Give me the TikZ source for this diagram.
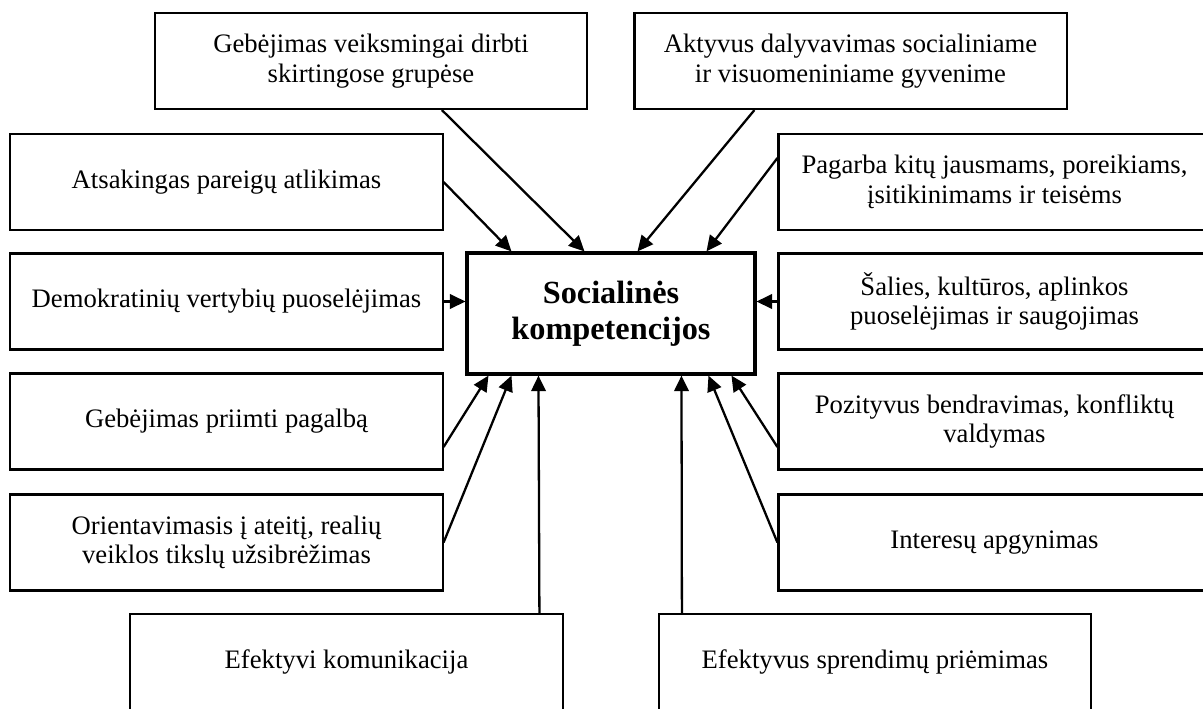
\documentclass[tikz,border=0pt]{standalone}
\usepackage{fontspec}
\setmainfont{Liberation Serif}
\usetikzlibrary{arrows.meta,calc}

\begin{document}
\begin{tikzpicture}[x=0.48pt,y=-0.48pt,
  box/.style={draw, line width=1pt, minimum width=207.4pt, minimum height=46.1pt, inner sep=0pt, align=center, font=\fontsize{12.8}{14.2}\selectfont},
  core/.style={draw, line width=1.5pt, minimum width=138.2pt, minimum height=58.1pt, inner sep=0pt, align=center, font=\fontsize{15.5}{17.5}\selectfont\bfseries},
  arr/.style={-{Triangle[length=7.5pt,width=7pt]}, line width=1.1pt}]
\useasboundingbox (0,0) rectangle (1203,708);
\node[core] (c) at (611,313.5) {Socialinės\\kompetencijos};
\node[box] (tl) at (371,61) {Gebėjimas veiksmingai dirbti\\skirtingose grupėse};
\node[box] (tr) at (850.5,61) {Aktyvus dalyvavimas socialiniame\\ir visuomeniniame gyvenime};
\node[box] (l1) at (226.5,182) {Atsakingas pareigų atlikimas};
\node[box] (l2) at (226.5,301.5) {Demokratinių vertybių puoselėjimas};
\node[box] (l3) at (226.5,421.5) {Gebėjimas priimti pagalbą};
\node[box] (l4) at (226.5,542.5) {Orientavimasis į ateitį, realių\\veiklos tikslų užsibrėžimas};
\node[box] (r1) at (994.5,182) {Pagarba kitų jausmams, poreikiams,\\įsitikinimams ir teisėms};
\node[box] (r2) at (994.5,301.5) {Šalies, kultūros, aplinkos\\puoselėjimas ir saugojimas};
\node[box] (r3) at (994.5,421.5) {Pozityvus bendravimas, konfliktų\\valdymas};
\node[box] (r4) at (994.5,542.5) {Interesų apgynimas};
\node[box] (bl) at (346.5,662) {Efektyvi komunikacija};
\node[box] (br) at (875,662) {Efektyvus sprendimų priėmimas};
\draw[arr] ($(tl.south west)+(288,0)$) -- ($(c.north west)+(119,0)$);
\draw[arr] ($(tr.south west)+(121,0)$) -- ($(c.north west)+(172,0)$);
\draw[arr] (l1.east) -- ($(c.north west)+(46,0)$);
\draw[arr] ($(r1.west)+(0,-24)$) -- ($(c.north west)+(241,0)$);
\draw[arr] (l2.east) -- (l2.east -| c.west);
\draw[arr] (r2.west) -- (r2.west -| c.east);
\draw[arr] ($(l3.east)+(0,25.5)$) -- ($(c.south west)+(23,0)$);
\draw[arr] (l4.east) -- ($(c.south west)+(46,0)$);
\draw[arr] ($(r3.west)+(0,25.5)$) -- ($(c.south west)+(266,0)$);
\draw[arr] (r4.west) -- ($(c.south west)+(243,0)$);
\draw[arr] ($(bl.north west)+(410,0)$) -- ($(c.south west)+(73,0)$);
\draw[arr] ($(br.north west)+(24,0)$) -- ($(c.south west)+(216,0)$);
\end{tikzpicture}
\end{document}
